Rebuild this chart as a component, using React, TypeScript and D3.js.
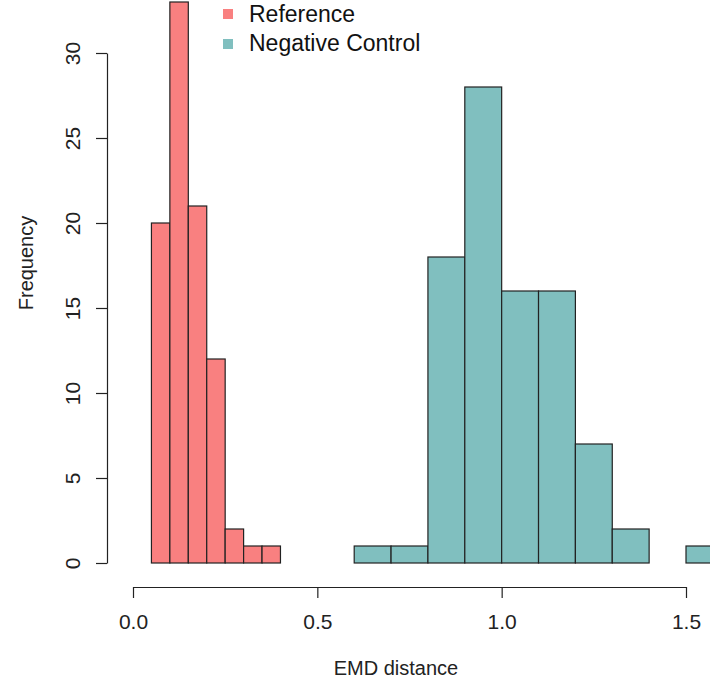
import { useEffect, useRef } from 'react';
import * as d3 from 'd3';

// histogram bins (left edges .. right edges) and counts
const refBreaks = [0.05, 0.1, 0.15, 0.2, 0.25, 0.3, 0.35, 0.4];
const refCounts = [20, 33, 21, 12, 2, 1, 1];
const negBreaks = [0.6, 0.7, 0.8, 0.9, 1.0, 1.1, 1.2, 1.3, 1.4, 1.5, 1.6];
const negCounts = [1, 1, 18, 28, 16, 16, 7, 2, 0, 1];
const xTicks = [0, 0.5, 1.0, 1.5];
const yTicks = [0, 5, 10, 15, 20, 25, 30];
const legendLabels = ['Reference', 'Negative Control'];

const W = 710;
const H = 681;
const FONT = '"Liberation Sans", Arial, Helvetica, sans-serif';
const RED = '#F98080';
const TEAL = '#80BFBF';

export default function App() {
  const svgRef = useRef<SVGSVGElement>(null);

  useEffect(() => {
    const svg = d3.select(svgRef.current);
    svg.selectAll('*').remove();

    const x = d3.scaleLinear().domain([0, 1.5]).range([133, 686]);
    const y = d3.scaleLinear().domain([0, 30]).range([563, 53]);

    const bars = (breaks: number[], counts: number[], fill: string) => {
      const bins = counts.map((c, i) => ({ x0: breaks[i], x1: breaks[i + 1], c }));
      svg.append('g')
        .selectAll('rect')
        .data(bins)
        .enter()
        .append('rect')
        .attr('x', d => x(d.x0))
        .attr('y', d => y(d.c))
        .attr('width', d => x(d.x1) - x(d.x0))
        .attr('height', d => y(0) - y(d.c))
        .attr('fill', fill)
        .attr('stroke', '#222')
        .attr('stroke-width', 1.2);
    };
    bars(refBreaks, refCounts, RED);
    bars(negBreaks, negCounts, TEAL);

    // x axis
    const gx = svg.append('g')
      .attr('transform', 'translate(0,587)')
      .call(d3.axisBottom(x).tickValues(xTicks).tickFormat(d3.format('.1f')).tickSize(11).tickSizeOuter(0).tickPadding(16));
    gx.selectAll('path, line').attr('stroke', '#222').attr('stroke-width', 1.2);
    gx.selectAll('text').attr('font-size', 21).attr('font-family', FONT).attr('fill', '#222');

    // y axis
    const gy = svg.append('g')
      .attr('transform', 'translate(107,0)')
      .call(d3.axisLeft(y).tickValues(yTicks).tickSize(11).tickSizeOuter(0));
    gy.selectAll('path, line').attr('stroke', '#222').attr('stroke-width', 1.2);
    gy.selectAll('text')
      .attr('font-size', 21)
      .attr('font-family', FONT)
      .attr('fill', '#222')
      .attr('transform', 'rotate(-90)')
      .attr('text-anchor', 'middle')
      .attr('x', 0)
      .attr('y', -27)
      .attr('dy', 0);
    svg.selectAll('.domain').attr('fill', 'none');

    // axis titles
    svg.append('text')
      .attr('x', 396)
      .attr('y', 675)
      .attr('text-anchor', 'middle')
      .attr('font-size', 20)
      .attr('font-family', FONT)
      .attr('fill', '#222')
      .text('EMD distance');
    svg.append('text')
      .attr('transform', 'translate(33,263) rotate(-90)')
      .attr('text-anchor', 'middle')
      .attr('font-size', 20)
      .attr('font-family', FONT)
      .attr('fill', '#222')
      .text('Frequency');

    // legend
    const colors = [RED, TEAL];
    const lg = svg.append('g').attr('transform', 'translate(223,0)');
    legendLabels.forEach((lab, i) => {
      lg.append('rect')
        .attr('x', 0)
        .attr('y', 9 + i * 30)
        .attr('width', 10)
        .attr('height', 10)
        .attr('fill', colors[i]);
      lg.append('text')
        .attr('x', 26)
        .attr('y', 22 + i * 28.5)
        .attr('font-size', 23)
        .attr('font-family', FONT)
        .attr('fill', '#111')
        .text(lab);
    });
  }, []);

  return (
    <svg
      ref={svgRef}
      width={W}
      height={H}
      style={{ position: 'absolute', left: 0, top: 0, background: '#fff' }}
    />
  );
}
